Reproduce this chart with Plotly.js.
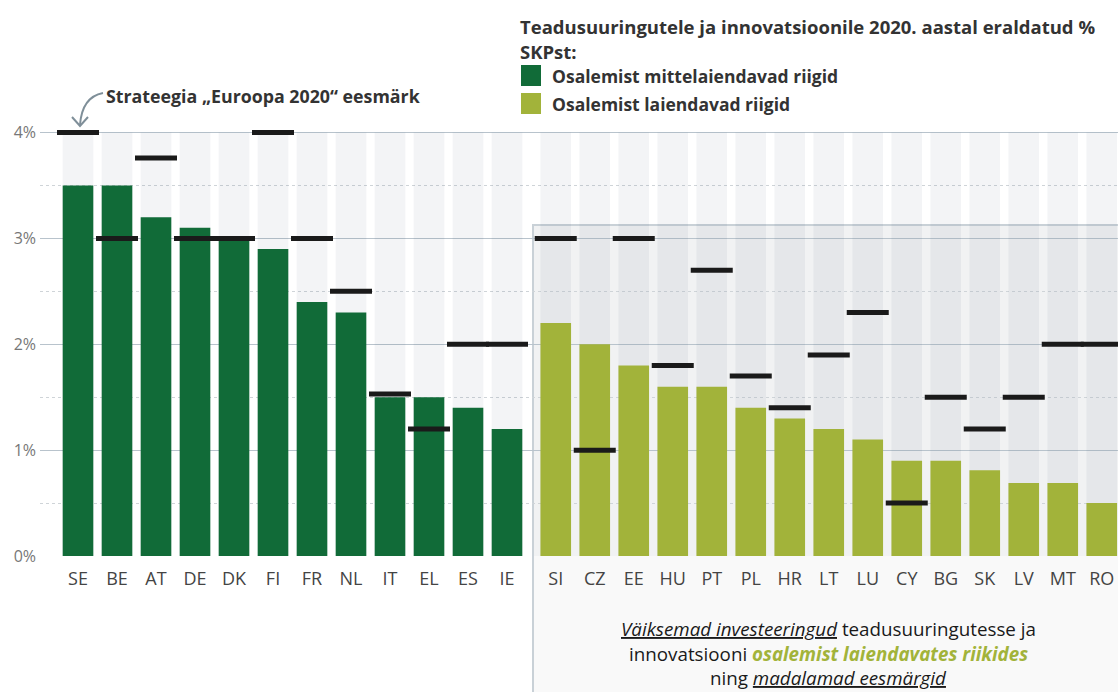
<!DOCTYPE html>
<html><head><meta charset="utf-8">
<script src="https://cdn.plot.ly/plotly-3.0.1.min.js"></script>
<style>html,body{margin:0;padding:0;background:#fff}</style>
</head><body><div id="chart" style="width:1118px;height:692px"></div>
<script>
// Osalemist mittelaiendavad riigid
const groupA = ['SE','BE','AT','DE','DK','FI','FR','NL','IT','EL','ES','IE'];
const valuesA = [3.5,3.5,3.2,3.1,3.0,2.9,2.4,2.3,1.5,1.5,1.4,1.2];
const targetsA = [4.0,3.0,3.76,3.0,3.0,4.0,3.0,2.5,1.53,1.2,2.0,2.0];
// Osalemist laiendavad riigid
const groupB = ['SI','CZ','EE','HU','PT','PL','HR','LT','LU','CY','BG','SK','LV','MT','RO'];
const valuesB = [2.2,2.0,1.8,1.6,1.6,1.4,1.3,1.2,1.1,0.9,0.9,0.81,0.69,0.69,0.5];
const targetsB = [3.0,1.0,3.0,1.8,2.7,1.7,1.4,1.9,2.3,0.5,1.5,1.2,1.5,2.0,2.0];
const yTicks = [0,1,2,3,4];
const scaleMax = 4;

const DARK = '#116b38', LIGHT = '#a2b33a';
const FONT = 'Open Sans, Noto Sans, sans-serif';
const W = 1118, H = 692, ML = 40, MR = 0, MT = 122, MB = 136;
const PW = W - ML - MR, PH = H - MT - MB;
const X = p => (p - ML) / PW;
const Y = p => (H - MB - p) / PH;

const GAP = 0.25;
const posA = groupA.map((_, i) => i);
const posB = groupB.map((_, i) => i + groupA.length + GAP);
const allPos = posA.concat(posB);
const allLabels = groupA.concat(groupB);
const BW = 0.785;

const traces = [
  {type:'bar', x: allPos, y: allPos.map(() => scaleMax), width: BW,
   marker:{color:'rgba(20,40,80,0.05)'}, hoverinfo:'skip', showlegend:false},
  {type:'bar', name:'Osalemist mittelaiendavad riigid', x: posA, y: valuesA, width: BW,
   marker:{color: DARK}, customdata: groupA, textposition:'none',
   hovertemplate:'%{customdata}: %{y}%<extra></extra>'},
  {type:'bar', name:'Osalemist laiendavad riigid', x: posB, y: valuesB, width: BW,
   marker:{color: LIGHT}, customdata: groupB, textposition:'none',
   hovertemplate:'%{customdata}: %{y}%<extra></extra>'},
  {type:'scatter', mode:'markers', name:'Strateegia „Euroopa 2020“ eesmärk',
   x: allPos, y: targetsA.concat(targetsB), cliponaxis:false,
   marker:{symbol:'line-ew', size:30, color:'#1a1a1a', line:{width:5, color:'#1a1a1a'}},
   showlegend:false, hovertemplate:'Eesmärk: %{y}%<extra></extra>'}
];

const shapes = [
  // shaded box for widening countries
  {type:'rect', xref:'paper', yref:'paper', x0:X(532), x1:X(1130), y0:Y(556), y1:Y(225),
   fillcolor:'rgba(20,30,50,0.06)', line:{width:0}, layer:'below'},
  {type:'rect', xref:'paper', yref:'paper', x0:X(532), x1:X(1130), y0:Y(700), y1:Y(556),
   fillcolor:'rgba(20,30,50,0.028)', line:{width:0}, layer:'below'},
  {type:'path', xref:'paper', yref:'paper',
   path:`M ${X(533)} ${Y(700)} L ${X(533)} ${Y(225)} L ${X(1130)} ${Y(225)}`,
   line:{color:'#c9d1d7', width:2}, layer:'below'},
  // legend squares
  {type:'rect', xref:'paper', yref:'paper', x0:X(521), x1:X(541), y0:Y(86), y1:Y(65),
   fillcolor: DARK, line:{width:0}},
  {type:'rect', xref:'paper', yref:'paper', x0:X(521), x1:X(541), y0:Y(114), y1:Y(93),
   fillcolor: LIGHT, line:{width:0}},
  // curved arrow
  {type:'path', xref:'paper', yref:'paper',
   path:`M ${X(103)} ${Y(93)} Q ${X(82)} ${Y(97)} ${X(80)} ${Y(125)}`,
   line:{color:'#7f8f99', width:2}},
  {type:'path', xref:'paper', yref:'paper',
   path:`M ${X(72)} ${Y(117)} L ${X(80)} ${Y(126)} L ${X(88)} ${Y(117)}`,
   line:{color:'#7f8f99', width:2}}
];

const ann = (text, px, py, size, opts) => Object.assign({
  xref:'paper', yref:'paper', x:X(px), y:Y(py), text, showarrow:false,
  xanchor:'left', yanchor:'middle', font:{family:FONT, size, color:'#333'}
}, opts || {});
const body = {xanchor:'center', font:{family:FONT, size:18.8, color:'#1a1a1a'}};

const annotations = [
  ann('<b>Teadusuuringutele ja innovatsioonile 2020. aastal eraldatud %</b>', 518, 26, 18.5),
  ann('<b>SKPst:</b>', 518, 51, 18.5),
  ann('<b>Osalemist mittelaiendavad riigid</b>', 550, 76, 17.5),
  ann('<b>Osalemist laiendavad riigid</b>', 550, 104, 17.5),
  ann('<b>Strateegia „Euroopa 2020“ eesmärk</b>', 104, 96, 17.8),
  ann('<i><u>Väiksemad investeeringud</u></i> teadusuuringutesse ja', 828, 629, 18.8, body),
  ann(`innovatsiooni <b><i><span style="color:${LIGHT}">osalemist laiendavates riikides</span></i></b>`, 828, 654, 18.8, body),
  ann('ning <i><u>madalamad eesmärgid</u></i>', 828, 678, 18.8, body)
];

const layout = {
  width: W, height: H,
  margin:{l:ML, r:MR, t:MT, b:MB, pad:0},
  paper_bgcolor:'#fff', plot_bgcolor:'rgba(0,0,0,0)',
  barmode:'overlay', showlegend:false,
  font:{family:FONT, color:'#444'},
  xaxis:{range:[(ML - 78)/39, (W - 78)/39], tickvals: allPos, ticktext: allLabels,
         showgrid:false, zeroline:false, showline:false, ticks:'', ticklabelstandoff:10,
         tickfont:{family:FONT, size:18, color:'#444'}, fixedrange:true},
  yaxis:{range:[0, 4.1], tickvals: yTicks, ticktext: yTicks.map(v => v + '%'),
         showgrid:true, gridcolor:'#b8c3cc', gridwidth:1.2, zeroline:false,
         showline:false, ticks:'', ticklabelstandoff:3,
         tickfont:{family:FONT, size:16, color:'#777'},
         minor:{dtick:0.5, tick0:0, showgrid:true, gridcolor:'#cfd4d8', griddash:'dot', gridwidth:1},
         fixedrange:true},
  shapes, annotations
};

Plotly.newPlot('chart', traces, layout, {displayModeBar:false});
</script>
</body></html>
